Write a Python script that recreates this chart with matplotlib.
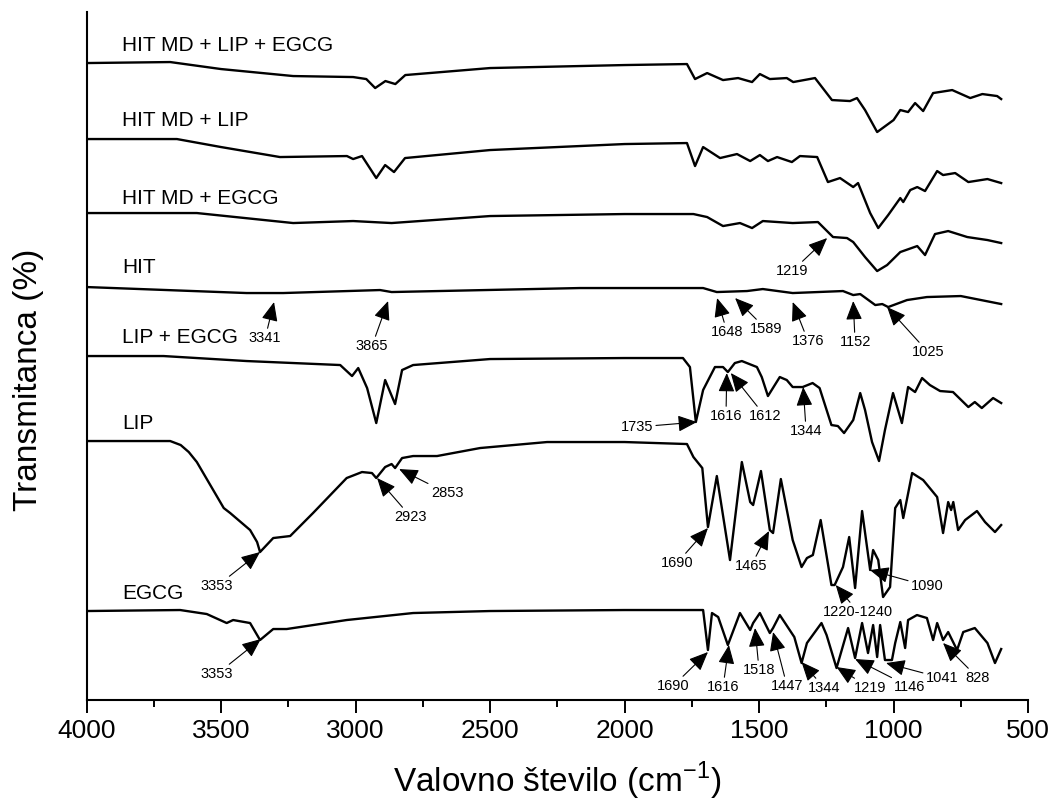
import matplotlib.pyplot as plt
import numpy as np

plt.rcParams['font.family'] = ['Liberation Sans', 'DejaVu Sans']

# wavenumber (cm-1) / transmittance (arbitrary, offset) for each spectrum
wn_hit_md_lip_egcg = [4000, 3689, 3500, 3232, 3009, 2960, 2927, 2889, 2852, 2815, 2500, 2000, 1768, 1738, 1693,
                      1634, 1578, 1526, 1497, 1460, 1397, 1373, 1292, 1229, 1162, 1136, 1106, 1061, 1000,
                      975, 946, 920, 890, 853, 782, 715, 670, 615, 600]
t_hit_md_lip_egcg = [637, 638, 631, 624, 623, 621, 612, 619, 616, 625, 632, 635, 636, 621, 627,
                     620, 622, 618, 626, 621, 622, 618, 622, 600, 599, 602, 590, 568, 580,
                     590, 588, 597, 589, 607, 610, 602, 606, 604, 601]

wn_hit_md_lip = [4000, 3664, 3500, 3281, 3032, 3009, 2976, 2923, 2890, 2857, 2816, 2500, 2000, 1768, 1738, 1708,
                 1645, 1582, 1533, 1497, 1467, 1433, 1378, 1348, 1284, 1244, 1199, 1150, 1132, 1087,
                 1057, 1020, 975, 964, 938, 912, 883, 838, 816, 771, 722, 651, 600]
t_hit_md_lip = [561, 561, 553, 543, 544, 541, 544, 522, 535, 528, 542, 550, 556, 557, 534, 553,
                542, 546, 539, 545, 539, 543, 538, 544, 543, 518, 522, 513, 517, 487,
                472, 485, 502, 498, 510, 513, 509, 529, 525, 527, 518, 521, 517]

wn_hit_md_egcg = [4000, 3590, 3232, 3009, 2866, 2500, 2000, 1744, 1693, 1634, 1571, 1526, 1486, 1375,
                  1281, 1225, 1173, 1150, 1106, 1061, 1024, 975, 912, 883, 846, 797, 726, 651, 600]
t_hit_md_egcg = [487, 487, 477, 479, 477, 484, 486, 486, 483, 474, 477, 472, 479, 477,
                 478, 463, 462, 458, 443, 429, 435, 448, 454, 445, 466, 469, 463, 460, 457]

wn_hit = [4000, 3405, 3269, 2909, 2866, 2166, 1708, 1657, 1545, 1486, 1375, 1188, 1150, 1124,
          1068, 1042, 1020, 950, 876, 750, 600]
t_hit = [413, 407, 407, 410, 408, 412, 412, 408, 409, 411, 407, 409, 405, 406,
         395, 396, 393, 400, 403, 404, 396]

wn_lip_egcg = [4000, 3714, 3405, 3057, 3013, 2990, 2957, 2923, 2890, 2853, 2827, 2786, 2500, 2000,
               1783, 1757, 1735, 1708, 1664, 1634, 1616, 1590, 1564, 1508, 1490, 1467, 1423, 1397,
               1375, 1338, 1301, 1275, 1231, 1207, 1184, 1150, 1124, 1106, 1080, 1054, 1032, 1002,
               969, 946, 920, 894, 865, 827, 779, 722, 698, 672, 630, 600]
t_lip_egcg = [344, 344, 339, 335, 324, 332, 312, 277, 320, 296, 330, 335, 341, 342,
              342, 333, 278, 310, 333, 333, 328, 337, 339, 333, 323, 304, 323, 320,
              313, 313, 317, 312, 275, 274, 267, 280, 307, 290, 258, 239, 270, 307,
              277, 313, 308, 322, 315, 309, 308, 293, 298, 292, 302, 297]

wn_lip = [4000, 3689, 3650, 3620, 3590, 3490, 3466, 3392, 3366, 3355, 3306, 3243, 3158, 3033, 2976, 2939, 2923,
          2890, 2866, 2853, 2827, 2786, 2697, 2537, 2288, 2000, 1768, 1744, 1711, 1690, 1657, 1608,
          1564, 1533, 1522, 1493, 1460, 1448, 1419, 1375, 1342, 1322, 1300, 1271, 1231, 1219, 1188,
          1165, 1143, 1117, 1087, 1076, 1057, 1039, 1013, 994, 975, 964, 931, 890, 838, 816, 797,
          786, 778, 760, 734, 690, 660, 623, 600]
t_lip = [259, 259, 255, 248, 238, 192, 187, 170, 158, 148, 162, 164, 187, 222, 228, 227, 222,
         233, 236, 232, 242, 244, 244, 252, 258, 258, 256, 243, 232, 173, 224, 140,
         238, 198, 195, 229, 170, 167, 221, 160, 133, 142, 145, 180, 115, 115, 133,
         163, 112, 189, 130, 150, 140, 103, 113, 192, 200, 182, 227, 220, 203, 167, 198,
         190, 198, 170, 180, 189, 178, 168, 175]

wn_egcg = [4000, 3652, 3553, 3479, 3455, 3392, 3355, 3306, 3256, 3033, 2786, 2500, 2000, 1708, 1690,
           1675, 1652, 1616, 1571, 1533, 1522, 1497, 1460, 1448, 1423, 1369, 1342, 1322, 1268,
           1249, 1212, 1169, 1143, 1117, 1095, 1076, 1061, 1050, 1032, 1006, 994, 975, 957, 946,
           913, 876, 853, 838, 816, 797, 764, 741, 698, 651, 623, 600]
t_egcg = [89, 90, 86, 77, 80, 77, 60, 71, 71, 80, 87, 89, 90, 90, 50,
          87, 83, 55, 87, 70, 77, 87, 67, 72, 85, 63, 37, 57, 77,
          65, 32, 72, 42, 77, 47, 75, 43, 75, 40, 40, 57, 78, 52, 80,
          85, 82, 60, 77, 60, 68, 50, 68, 72, 57, 37, 51]

labels = ["HIT MD + LIP + EGCG", "HIT MD + LIP", "HIT MD + EGCG", "HIT", "LIP + EGCG", "LIP", "EGCG"]
label_y = [655, 580, 502, 433, 363, 277, 107]

# (text, peak wn, peak t, text wn, text t)
peaks = [
    ("3341", 3303, 398, 3336, 362), ("3865", 2879, 399, 2939, 354),
    ("1648", 1656, 402, 1619, 368), ("1589", 1589, 402, 1474, 371),
    ("1376", 1375, 398, 1318, 359), ("1152", 1150, 399, 1143, 358),
    ("1025", 1024, 393, 872, 348),
    ("1219", 1247, 462, 1377, 429),
    ("1735", 1731, 278, 1954, 273), ("1616", 1620, 327, 1623, 284),
    ("1612", 1605, 327, 1478, 284), ("1344", 1336, 313, 1325, 269),
    ("3353", 3355, 148, 3515, 114), ("2923", 2920, 222, 2794, 183),
    ("2853", 2838, 231, 2660, 207), ("1690", 1690, 172, 1805, 137),
    ("1465", 1463, 169, 1530, 134), ("1220-1240", 1215, 115, 1132, 88),
    ("1090", 1088, 130, 875, 114),
    ("3353", 3352, 61, 3515, 26), ("1690", 1690, 48, 1820, 14),
    ("1616", 1612, 55, 1634, 13), ("1518", 1515, 72, 1500, 30),
    ("1447", 1448, 68, 1396, 14), ("1344", 1342, 38, 1257, 12),
    ("1219", 1212, 33, 1087, 12), ("1146", 1143, 41, 939, 13),
    ("1041", 1028, 37, 820, 22), ("828", 816, 57, 686, 22),
]

fig = plt.figure(figsize=(10.54, 8.09), dpi=100)
ax = fig.add_axes([0.0821, 0.1347, 0.8933, 0.8504])

series = [(wn_hit_md_lip_egcg, t_hit_md_lip_egcg), (wn_hit_md_lip, t_hit_md_lip),
          (wn_hit_md_egcg, t_hit_md_egcg), (wn_hit, t_hit), (wn_lip_egcg, t_lip_egcg),
          (wn_lip, t_lip), (wn_egcg, t_egcg)]
for (w, t) in series:
    ax.plot(w, t, color='black', lw=1.7, solid_joinstyle='round')

for name, y in zip(labels, label_y):
    ax.text(3869, y, name, fontsize=15, ha='left', va='center')

for txt, px, py, tx, ty in peaks:
    ax.annotate(txt, xy=(px, py), xytext=(tx, ty), fontsize=10.5, ha='center', va='center',
                arrowprops=dict(arrowstyle='-|>,head_length=0.65,head_width=0.28', color='black',
                                lw=0.8, mutation_scale=18, shrinkA=0, shrinkB=0))

ax.set_xlim(4000, 500)
ax.set_ylim(0, 688)
ax.set_xticks(np.arange(4000, 499, -500))
ax.set_xticks(np.arange(3750, 500, -500), minor=True)
ax.set_yticks([])
ax.spines['top'].set_visible(False)
ax.spines['right'].set_visible(False)
ax.spines['left'].set_linewidth(1.5)
ax.spines['bottom'].set_linewidth(1.5)
ax.tick_params(axis='x', which='major', direction='out', length=9.5, width=1.4, labelsize=19, pad=4)
ax.tick_params(axis='x', which='minor', direction='out', length=5, width=1.4)

ax.set_xlabel(r"Valovno število (cm$^{\mathregular{-1}}$)", fontsize=24, labelpad=12)
ax.set_ylabel("Transmitanca (%)", fontsize=24)
ax.yaxis.set_label_coords(-0.045, 0.465)

fig.savefig("out.png", dpi=100)
